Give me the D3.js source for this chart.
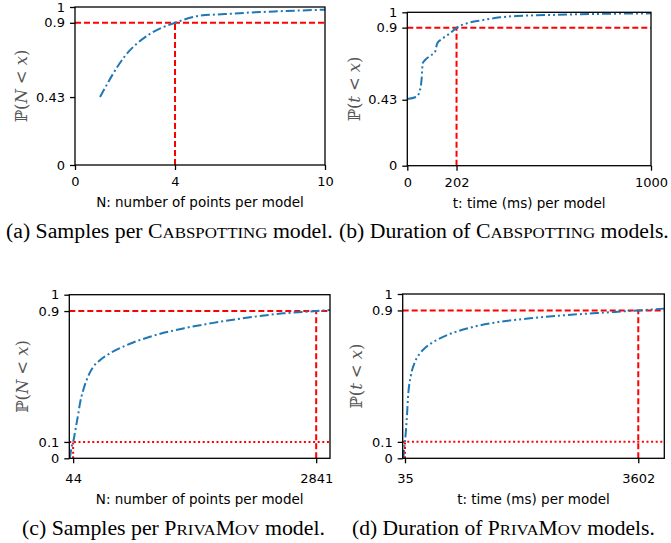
<!DOCTYPE html>
<html><head><meta charset="utf-8">
<script src="https://cdn.jsdelivr.net/npm/d3@7"></script>
<style>
html,body{margin:0;padding:0;background:#fff;}
svg{display:block;}
</style></head>
<body>
<svg id="chart" width="671" height="543"></svg>
<script>
// ---- data ----
const aN = [1,2,3,4,5,6,7,8,9,10];
const aP = [0.43,0.69,0.83,0.9,0.945,0.955,0.965,0.972,0.978,0.983];
const aXTicks = [0,4,10];
const aYTicks = [0,0.43,0.9,1];

const bT = [0,39,52,59,63,73,93,114,123,141,175,203,244,312,380,449,600,800,1000];
const bP = [0.435,0.45,0.493,0.57,0.667,0.689,0.715,0.743,0.798,0.824,0.863,0.9,0.928,0.95,0.967,0.976,0.983,0.99,0.993];
const bXTicks = [0,202,1000];
const bYTicks = [0,0.43,0.9,1];

const cN = [0,8,27,44,77,104,123,161,207,276,353,468,660,929,1312,1696,2079,2463,2841,3000];
const cP = [0,0.01,0.071,0.1,0.193,0.275,0.336,0.418,0.489,0.56,0.6,0.642,0.692,0.743,0.794,0.831,0.862,0.886,0.9,0.906];
const cXTicks = [44,2841];
const cYTicks = [0,0.1,0.9,1];

const dT = [0,9,20,35,61,86,122,188,265,367,520,723,1029,1437,1946,2456,2966,3602,4000];
const dP = [0,0,0.05,0.1,0.233,0.396,0.497,0.588,0.639,0.68,0.72,0.757,0.795,0.828,0.852,0.87,0.884,0.9,0.911];
const dXTicks = [35,3602];
const dYTicks = [0,0.1,0.9,1];

const captions = [
  ["(a) Samples per ", "C", "ABSPOTTING", "", "", " model."],
  ["(b) Duration of ", "C", "ABSPOTTING", "", "", " models."],
  ["(c) Samples per ", "P", "RIVA", "M", "OV", " model."],
  ["(d) Duration of ", "P", "RIVA", "M", "OV", " models."]
];

// ---- layout ----
const BLUE = "#1f77b4", RED = "#ff0000";
const svg = d3.select("#chart");

const panels = [
  {xs:aN, ys:aP, xd:[0,10], xt:aXTicks, yt:aYTicks, L:75, R:325, T:7, B:165,
   v:"N", xlabel:"N: number of points per model", dash:"9,3,2,3",
   xpad:7, xlab:42, ylab:48,
   ref:[{x:4,y:0.9,style:"dash"}]},
  {xs:bT, ys:bP, xd:[0,1000], xt:bXTicks, yt:bYTicks, L:407.3, R:651, T:12.3, B:165.7,
   v:"t", xlabel:"t: time (ms) per model", dash:"9,3,2,3,2,3",
   xpad:7, xlab:42, ylab:47,
   ref:[{x:202,y:0.9,style:"dash"}]},
  {xs:cN, ys:cP, xd:[0,3000], xt:cXTicks, yt:cYTicks, L:69.3, R:330, T:294.7, B:458.3,
   v:"N", xlabel:"N: number of points per model", dash:"9,3,2,3",
   xpad:10, xlab:45.5, ylab:41,
   ref:[{x:44,y:0.1,style:"dot"},{x:2841,y:0.9,style:"dash"}]},
  {xs:dT, ys:dP, xd:[0,4000], xt:dXTicks, yt:dYTicks, L:402.7, R:664.3, T:294, B:458.3,
   v:"t", xlabel:"t: time (ms) per model", dash:"9,3,2,3,2,3",
   xpad:10, xlab:45.5, ylab:41,
   ref:[{x:35,y:0.1,style:"dot"},{x:3602,y:0.9,style:"dash"}]}
];

const fmtY = d => d===0?"0":d===1?"1":String(d);

panels.forEach((p,i)=>{
  const x = d3.scaleLinear().domain(p.xd).range([p.L,p.R]);
  const y = d3.scaleLinear().domain([0,1]).range([p.B,p.T]);
  const g = svg.append("g");
  const clipId = "clip"+i;
  svg.append("clipPath").attr("id",clipId).append("rect")
    .attr("x",p.L).attr("y",p.T).attr("width",p.R-p.L).attr("height",p.B-p.T);

  const rg = g.append("g").attr("clip-path",`url(#${clipId})`);
  p.ref.forEach(r=>{
    const da = r.style==="dash" ? "6,3" : "2,2.6";
    rg.append("line").attr("x1",p.L).attr("x2",p.R).attr("y1",y(r.y)).attr("y2",y(r.y))
      .attr("stroke",RED).attr("stroke-width",2).attr("stroke-dasharray",da);
    rg.append("line").attr("x1",x(r.x)).attr("x2",x(r.x)).attr("y1",p.B).attr("y2",y(r.y))
      .attr("stroke",RED).attr("stroke-width",2).attr("stroke-dasharray",da);
  });

  const line = d3.line().x(d=>x(d[0])).y(d=>y(d[1])).curve(d3.curveMonotoneX);
  rg.append("path").datum(d3.zip(p.xs,p.ys)).attr("d",line)
    .attr("fill","none").attr("stroke",BLUE).attr("stroke-width",2)
    .attr("stroke-dasharray",p.dash);

  g.append("rect").attr("x",p.L).attr("y",p.T).attr("width",p.R-p.L).attr("height",p.B-p.T)
    .attr("fill","none").attr("stroke","#000").attr("stroke-width",1.3);

  const xa = g.append("g").attr("transform",`translate(0,${p.B})`)
    .call(d3.axisBottom(x).tickValues(p.xt).tickSize(5).tickSizeOuter(0).tickPadding(p.xpad).tickFormat(d3.format("d")));
  const ya = g.append("g").attr("transform",`translate(${p.L},0)`)
    .call(d3.axisLeft(y).tickValues(p.yt).tickSize(5).tickSizeOuter(0).tickPadding(5).tickFormat(fmtY));
  [xa,ya].forEach(a=>{
    a.select(".domain").remove();
    a.selectAll(".tick line").attr("stroke","#000").attr("stroke-width",1.3);
    a.selectAll(".tick text").attr("fill","#000")
      .style("font-family","'DejaVu Sans'").style("font-size","13px");
  });

  g.append("text").attr("x",(p.L+p.R)/2).attr("y",p.B+p.xlab).attr("text-anchor","middle")
    .style("font-family","'DejaVu Sans'").style("font-size","13.5px").attr("fill","#000")
    .text(p.xlabel);

  const yl = g.append("text")
    .attr("transform",`translate(${p.L-p.ylab},${(p.T+p.B)/2}) rotate(-90)`)
    .attr("text-anchor","middle").attr("fill","#555")
    .style("font-family","'DejaVu Serif'").style("font-size","16.5px");
  yl.append("tspan").text("ℙ(");
  yl.append("tspan").style("font-style","italic").text(p.v);
  yl.append("tspan").attr("dx",5).text("<");
  yl.append("tspan").attr("dx",5).style("font-style","italic").text("x");
  yl.append("tspan").text(")");
});

// captions (fit horizontally to the reference extents)
const capBox = [[6,333,238],[339,669,238],[22,325,535],[352,655,535]];
captions.forEach((c,i)=>{
  const [x0,x1,yb] = capBox[i];
  const t = svg.append("text").attr("x",0).attr("y",0)
    .style("font-family","'Liberation Serif'").style("font-size","20px").attr("fill","#000");
  t.append("tspan").text(c[0]);
  t.append("tspan").text(c[1]);
  t.append("tspan").style("font-size","15.5px").text(c[2]);
  if (c[3]) t.append("tspan").text(c[3]);
  if (c[4]) t.append("tspan").style("font-size","15.5px").text(c[4]);
  t.append("tspan").text(c[5]);
  const w = t.node().getComputedTextLength();
  const sx = (x1-x0)/w;
  t.attr("transform",`translate(${x0},${yb}) scale(${sx},1)`);
});
</script>
</body></html>
